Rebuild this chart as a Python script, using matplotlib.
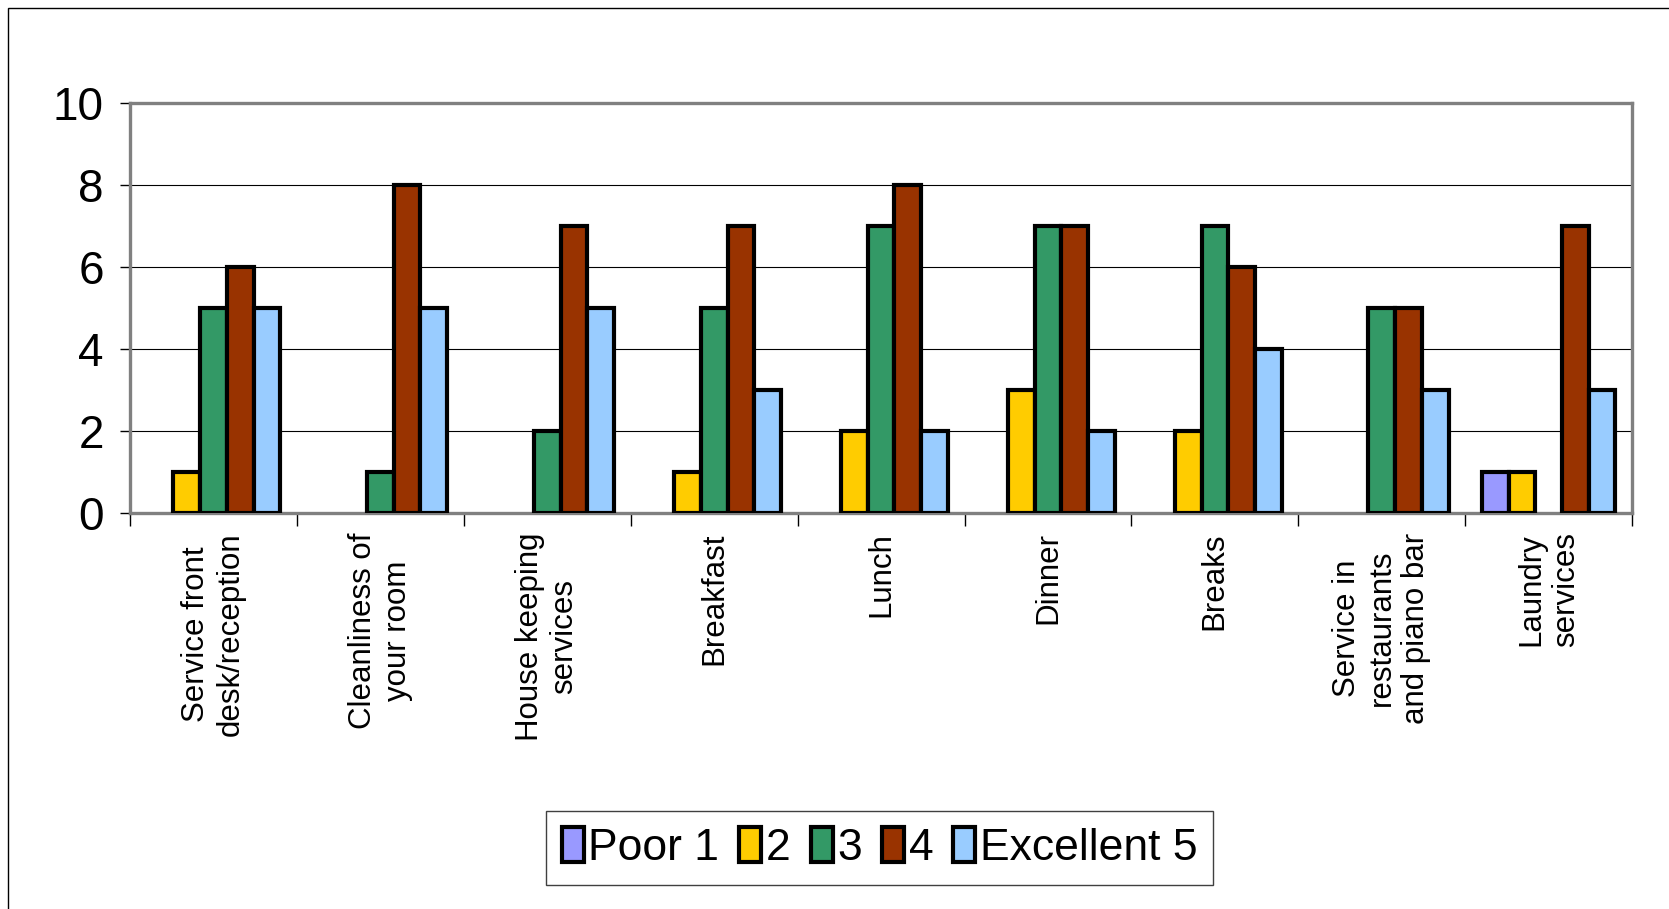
import matplotlib
matplotlib.use("Agg")
import matplotlib.pyplot as plt
import numpy as np
from matplotlib.patches import Patch, Rectangle

# Hotel guest survey: number of answers per rating for each service
categories = [
    "Service front\ndesk/reception",
    "Cleanliness of\nyour room",
    "House keeping\nservices",
    "Breakfast",
    "Lunch",
    "Dinner",
    "Breaks",
    "Service in\nrestaurants\nand piano bar",
    "Laundry\nservices",
]
rating_labels = ["Poor 1", "2", "3", "4", "Excellent 5"]
poor_1 = [0, 0, 0, 0, 0, 0, 0, 0, 1]
rating_2 = [1, 0, 0, 1, 2, 3, 2, 0, 1]
rating_3 = [5, 1, 2, 5, 7, 7, 7, 5, 0]
rating_4 = [6, 8, 7, 7, 8, 7, 6, 5, 7]
excellent_5 = [5, 5, 5, 3, 2, 2, 4, 3, 3]
y_ticks = [0, 2, 4, 6, 8, 10]

series = [poor_1, rating_2, rating_3, rating_4, excellent_5]
colors = ["#9999FF", "#FFCC00", "#339966", "#993300", "#99CCFF"]

FONT = ["Liberation Sans", "DejaVu Sans"]

fig = plt.figure(figsize=(16.69, 9.09), dpi=100)
fig.patch.set_facecolor("white")

# outer chart-area border (runs off the right and bottom edges)
fig.patches.append(Rectangle((0.005, -0.2), 1.5, 1.191, transform=fig.transFigure,
                             fill=False, edgecolor="black", linewidth=1.0))

ax = fig.add_axes([0.0779, 0.4356, 0.9000, 0.4511])

x = np.arange(len(categories))
bar_w = 0.16
for i, (vals, color) in enumerate(zip(series, colors)):
    bars = ax.bar(x + (i - 2) * bar_w, vals, width=bar_w, color=color,
                  edgecolor="black", linewidth=3.0, zorder=3)
    for rect, v in zip(bars, vals):
        if v == 0:
            rect.set_visible(False)

ax.set_xlim(-0.5, len(categories) - 0.5)
ax.set_ylim(0, 10)
ax.set_yticks(y_ticks)
ax.set_yticklabels([str(t) for t in y_ticks], fontsize=33, family=FONT)
ax.tick_params(axis="y", direction="out", length=7, width=1.0, color="black", pad=12)

# category ticks sit on the boundaries between groups
ax.set_xticks(np.arange(len(categories) + 1) - 0.5)
ax.set_xticklabels([])
ax.set_xticks(x, minor=True)
ax.set_xticklabels(categories, minor=True, rotation=90, fontsize=22.5,
                   family=FONT, ha="center", va="top", multialignment="center")
ax.tick_params(axis="x", which="major", direction="out", length=9, width=1.0, color="black")
ax.tick_params(axis="x", which="minor", length=0, pad=14)

ax.yaxis.grid(True, color="black", linewidth=0.8, zorder=0)
ax.set_axisbelow(True)
for side in ("top", "right", "left", "bottom"):
    ax.spines[side].set_color("#808080")
    ax.spines[side].set_linewidth(2.4)

handles = [Patch(facecolor=c, edgecolor="black", linewidth=3.0, joinstyle="round", label=l)
           for c, l in zip(colors, rating_labels)]
leg = fig.legend(handles=handles, loc="center", bbox_to_anchor=(0.527, 0.067), ncol=5,
                 prop={"family": FONT, "size": 32},
                 handlelength=0.5, handleheight=0.85, handletextpad=0.1,
                 columnspacing=0.45, borderpad=0.35, fancybox=False,
                 framealpha=1, edgecolor="#404040")
leg.get_frame().set_linewidth(1.0)

fig.savefig("out.png", dpi=100)
